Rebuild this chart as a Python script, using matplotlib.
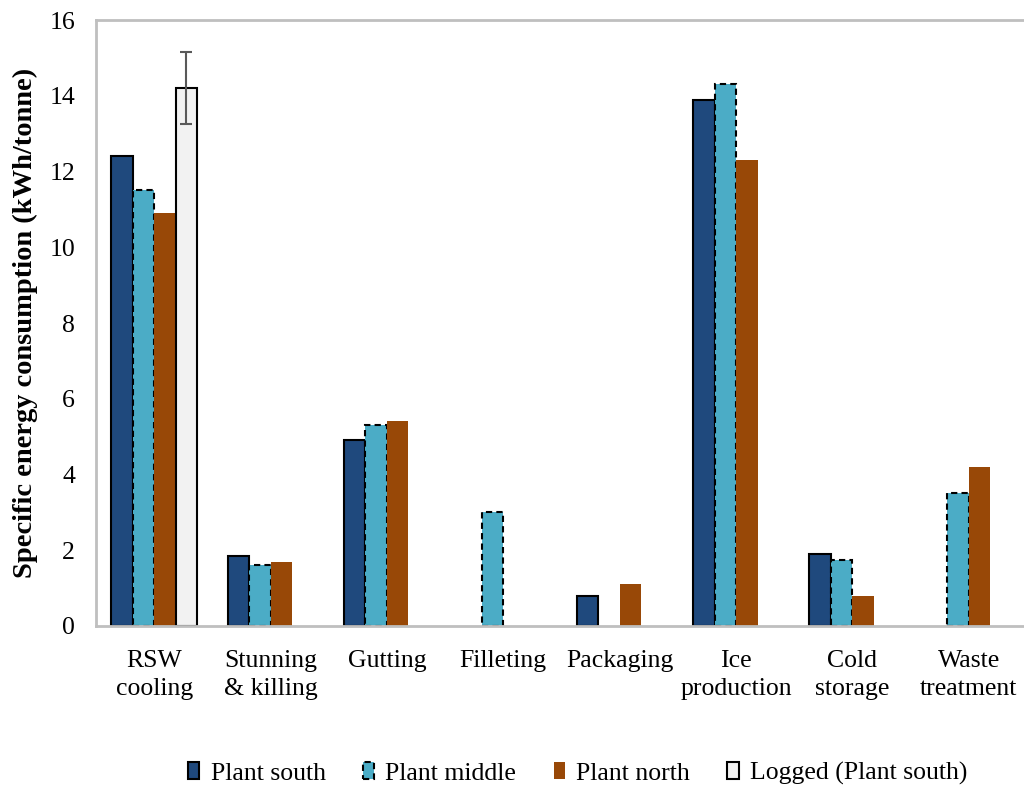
import matplotlib as mpl
mpl.use("Agg")
import matplotlib.pyplot as plt
import numpy as np

plt.rcParams['font.family'] = ['Liberation Serif', 'DejaVu Serif']

categories = ["RSW\ncooling", "Stunning\n& killing", "Gutting", "Filleting",
              "Packaging", "Ice\nproduction", "Cold\nstorage", "Waste\ntreatment"]
nan = np.nan
plant_south = [12.4, 1.85, 4.9, nan, 0.8, 13.9, 1.9, nan]
plant_middle = [11.5, 1.6, 5.3, 3.0, nan, 14.3, 1.75, 3.5]
plant_north = [10.9, 1.7, 5.4, nan, 1.1, 12.3, 0.8, 4.2]
logged_south = [14.2, nan, nan, nan, nan, nan, nan, nan]
logged_err = [0.95, 0, 0, 0, 0, 0, 0, 0]

fig = plt.figure(figsize=(10.24, 7.86), dpi=100)
ax = fig.add_axes([96 / 1024, 160 / 786, 931 / 1024, 606 / 786])

x = np.arange(len(categories))
w = 0.185

ax.bar(x - 1.5 * w, plant_south, w, color="#1F497D", edgecolor="black",
       linewidth=1.5, label="Plant south")
ax.bar(x - 0.5 * w, plant_middle, w, color="#4BACC6", edgecolor="black",
       linewidth=1.5, linestyle=(0, (3, 2)), label="Plant middle")
ax.bar(x + 0.5 * w, plant_north, w, color="#984807", linewidth=0,
       label="Plant north")
ax.bar(x + 1.5 * w, logged_south, w, color="#F2F2F2", edgecolor="black",
       linewidth=1.5, label="Logged (Plant south)")
ax.errorbar(x + 1.5 * w, logged_south, yerr=logged_err, fmt="none",
            ecolor="#595959", elinewidth=1.5, capsize=4.5, capthick=1.5)

ax.set_xlim(-0.5, len(categories) - 0.5)
ax.set_ylim(0, 16)
ax.set_yticks(np.arange(0, 17, 2))
ax.set_xticks(x)
ax.set_xticklabels(categories, linespacing=1.35)
ax.tick_params(axis="both", length=0, labelsize=18.5)
ax.tick_params(axis="x", pad=17)
ax.tick_params(axis="y", pad=15)
for sp in ax.spines.values():
    sp.set_color("#BFBFBF")
    sp.set_linewidth(2)

ax.set_ylabel("Specific energy consumption (kWh/tonne)", fontsize=20.5,
              fontweight="bold", labelpad=8)

fig.legend(loc="center", bbox_to_anchor=(0.564, 0.016), ncol=4, frameon=False,
           fontsize=18.5, handlelength=0.45, handleheight=0.6,
           handletextpad=0.43, columnspacing=1.45)

fig.savefig("out.png", dpi=100)
